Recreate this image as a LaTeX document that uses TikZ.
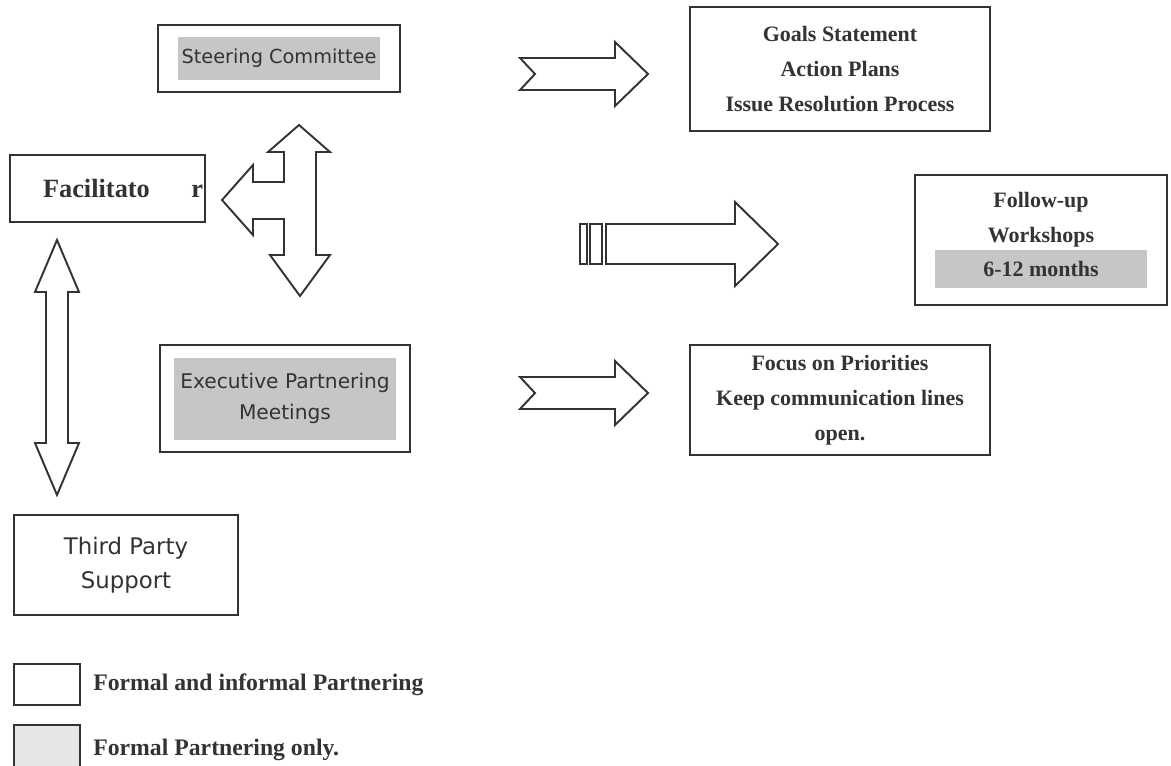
\documentclass[tikz,border=0pt]{standalone}
\usepackage{fontspec}
\setmainfont{Liberation Serif}
\newfontfamily\sansfnt{DejaVu Sans}
\usepackage{xcolor}
\usepackage{tikz}
\usetikzlibrary{positioning}
\definecolor{cInk}{HTML}{333333}
\definecolor{cShade}{HTML}{C6C6C6}
\definecolor{cPale}{HTML}{E6E6E6}
\tikzset{
  box/.style={rectangle, draw=cInk, line width=1.3pt, fill=white, align=center, inner sep=0pt, text=cInk},
  serifbox/.style={box, font=\fontsize{12.5}{20}\selectfont\bfseries},
  sansbox/.style={box, font=\fontsize{11.5}{18}\selectfont\sansfnt},
  blockarrow/.style={draw=cInk, line width=1.1pt, fill=white, line join=miter},
  legtext/.style={font=\fontsize{13.5}{15}\selectfont\bfseries, text=cInk, anchor=base west, inner sep=0pt},
}
\newcommand{\shade}[3]{{\setlength{\fboxsep}{2pt}\colorbox{cShade}{\parbox[c][#1][c]{#2}{\centering #3}}}}
% notched block arrow, argument is the notch point
\newcommand{\notcharrow}[1]{%
  \draw[blockarrow] (#1) -- ++(-15,-16) -- ++(95,0) -- ++(0,-16) -- ++(33,32) -- ++(-33,32) -- ++(0,-16) -- ++(-95,0) -- cycle;}

\begin{document}
\begin{tikzpicture}[x=0.02cm, y=-0.02cm]
\useasboundingbox (0,0) rectangle (1171,765);
% top row
\node[sansbox, font=\fontsize{11}{18}\selectfont\sansfnt, minimum width=4.84cm, minimum height=1.34cm] (steer) at (279,58.5) {\shade{0.7cm}{3.9cm}{Steering Committee}};
\node[serifbox, minimum width=6cm, minimum height=2.48cm] (goals) at (840,69) {Goals Statement\\Action Plans\\Issue Resolution Process};
\notcharrow{535,74}
% middle row
\node[serifbox, font=\fontsize{15}{18}\selectfont\bfseries, inner xsep=0pt, minimum width=3.9cm, minimum height=1.34cm] (facil) at (107.5,188.5) {\hspace*{0.66cm}\makebox[3.2cm]{Facilitato\hfill r}\hspace*{0.04cm}};
\draw[blockarrow] (299,125) -- (330,152) -- (316,152) -- (316,255) -- (330,255) -- (300,296) -- (270,255) -- (284,255) -- (284,219) -- (253,219) -- (253,235) -- (222,200) -- (253,165) -- (253,182) -- (284,182) -- (284,152) -- (268,152) -- cycle;
\draw[blockarrow] (580,224) rectangle (587,264);
\draw[blockarrow] (590,224) rectangle (602,264);
\draw[blockarrow] (606,224) -- (735,224) -- (735,202) -- (778,244) -- (735,286) -- (735,264) -- (606,264) -- cycle;
\node[serifbox, minimum width=5.04cm, minimum height=2.6cm] (follow) at (1041,240) {Follow-up\\Workshops\\[-2pt]\shade{0.62cm}{4.1cm}{6-12 months}};
\draw[blockarrow] (57,240) -- (79,292) -- (68,292) -- (68,443) -- (79,443) -- (57,495) -- (35,443) -- (46,443) -- (46,292) -- (35,292) -- cycle;
% lower row
\node[sansbox, minimum width=5cm, minimum height=2.14cm] (exec) at (285,398.5) {\shade{1.5cm}{4.3cm}{Executive Partnering\\Meetings}};
\notcharrow{535,393}
\node[serifbox, minimum width=6cm, minimum height=2.2cm] (focus) at (840,400) {Focus on Priorities\\Keep communication lines\\open.};
\node[sansbox, font=\fontsize{13}{19}\selectfont\sansfnt, minimum width=4.48cm, minimum height=2cm] (third) at (126,565) {Third Party\\Support};
% legend
\node[box, minimum width=1.32cm, minimum height=0.82cm] (legopen) at (47,684.5) {};
\node[box, fill=cPale, minimum width=1.32cm, minimum height=0.9cm] (legshade) at (47,747.5) {};
\node[legtext] (legopentxt) at (93,690) {Formal and informal Partnering};
\node[legtext] (legshadetxt) at (93,755) {Formal Partnering only.};
\end{tikzpicture}
\end{document}
